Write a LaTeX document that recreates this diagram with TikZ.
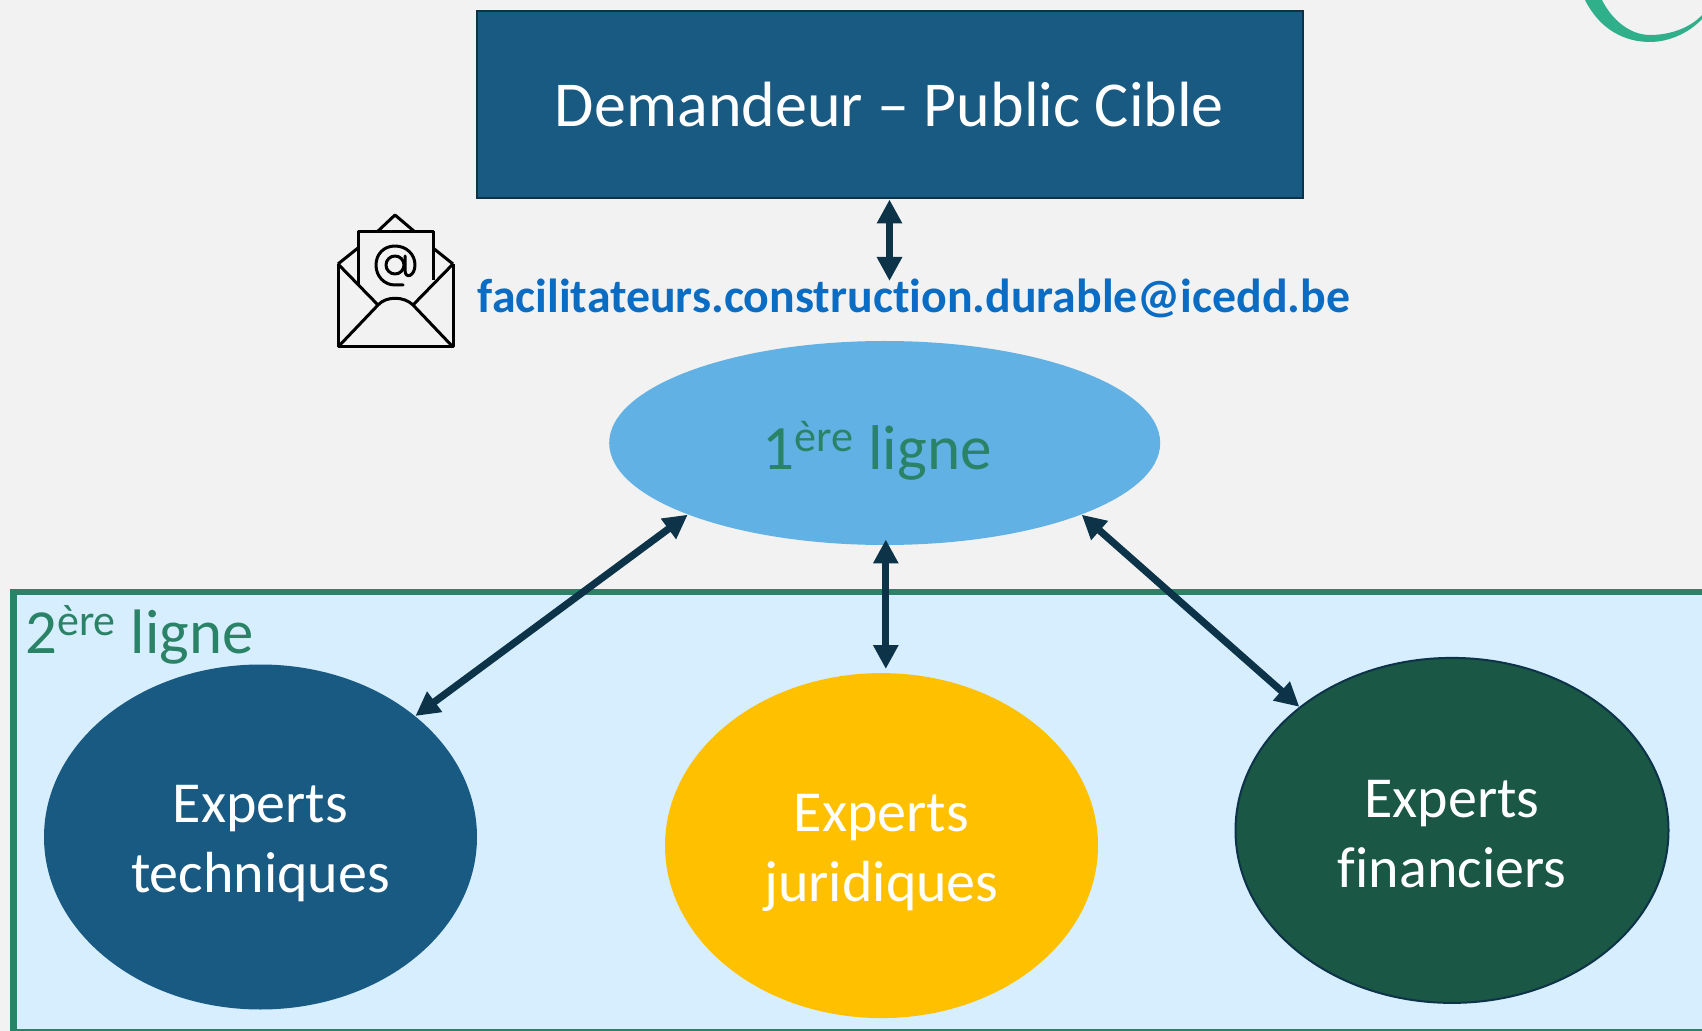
\documentclass[tikz,border=0pt]{standalone}
\usepackage{fontspec}
\setmainfont{Carlito}[Ligatures=NoCommon]
\usetikzlibrary{arrows.meta,shapes.geometric}
\definecolor{fond}{HTML}{F2F2F2}
\definecolor{bleu}{HTML}{185A82}
\definecolor{marine}{HTML}{0D3349}
\definecolor{ciel}{HTML}{61B1E4}
\definecolor{vert}{HTML}{2A8366}
\definecolor{pale}{HTML}{D6EEFE}
\definecolor{sapin}{HTML}{1A5745}
\definecolor{menthe}{HTML}{30B08A}
\definecolor{lien}{HTML}{0A6CC2}
\definecolor{jaune}{HTML}{FFC000}
\tikzset{
  expert/.style={ellipse, inner sep=0pt, minimum width=216.5pt, minimum height=172.5pt, text=white, align=center, text height=60.5pt, font=\fontsize{29}{35}\selectfont},
  fleche/.style={draw=marine, line width=3.6pt, {Triangle[length=12pt,width=12pt]}-{Triangle[length=12pt,width=12pt]}},
  icone/.style={line width=1.5pt, line join=round}
}
\begin{document}
\begin{tikzpicture}[x=0.5pt, y=-0.5pt]
    \path[use as bounding box, clip] (0,0) rectangle (1702,1031);
    \fill[fond] (0,0) rectangle (1702,1031);
    \fill[menthe] (1585,0) .. controls (1600,30) and (1625,42) .. (1650,42) .. controls (1670,42) and (1690,32) .. (1702,19) -- (1702,15) .. controls (1690,28) and (1670,35) .. (1650,35) .. controls (1630,35) and (1612,20) .. (1602,0) -- cycle;
    \draw[draw=vert, line width=3.2pt, fill=pale] (13.5,592) rectangle (1720,1032);
    \node[draw=marine, fill=bleu, line width=1pt, inner sep=0pt, minimum width=413pt, minimum height=93.5pt, text=white, font=\fontsize{32}{38}\selectfont] (demandeur) at (889.5,105) {Demandeur – Public Cible};
    \node[font=\bfseries\fontsize{23.9}{28}\selectfont, text=lien, inner sep=0pt] (courriel) at (914,298) {facilitateurs.construction.durable@icedd.be};
    \node[ellipse, fill=ciel, inner sep=0pt, minimum width=275.5pt, minimum height=102pt, text=vert, text height=33pt, text depth=6pt, font=\fontsize{31.6}{38}\selectfont] (premiere) at (884.7,443) {\hspace*{-7.6pt}1\textsuperscript{ère} ligne};
    \node[text=vert, inner sep=0pt, anchor=west, font=\fontsize{31.4}{38}\selectfont] (seconde) at (25,635) {2\textsuperscript{ère} ligne};
    \node[expert, fill=bleu] (techniques) at (260.5,837) {Experts\\techniques};
    \node[expert, fill=jaune] (juridiques) at (881.5,845.6) {Experts\\juridiques};
    \node[expert, fill=sapin, draw=marine, line width=1pt, text height=57pt] (financiers) at (1452,830.4) {Experts\\financiers};
    \coordinate (finmail) at (889.5,281);
    \coordinate (hautmilieu) at (885.8,539.5);
    \coordinate (basmilieu) at (885.8,669);
    \draw[fleche] (demandeur.south) -- (finmail);
    \draw[fleche] (premiere.200.7) -- (techniques.38.3);
    \draw[fleche] (hautmilieu) -- (basmilieu);
    \draw[fleche] (premiere.340) -- (financiers.141.6);
    % icone
    \draw[icone] (338,264) -- (338,347) -- (453,347) -- (453,264);
    \draw[icone] (338,264) -- (358,248) (453,264) -- (433,248);
    \draw[icone] (377,232) -- (395,215) -- (415,232);
    \draw[icone] (358,285) -- (358,232) -- (433,232) -- (433,280);
    \draw[icone] (338,264) -- (378,305) (453,264) -- (413,305);
    \draw[icone] (338,347) -- (378,305) .. controls (386,296) and (404,296) .. (413,305) -- (453,347);
    \draw[icone] (395,265) circle (9);
    \draw[icone, line cap=round] (405,256) -- (405,270) .. controls (405,280) and (415,276) .. (415,265) .. controls (415,254) and (406,246) .. (395,246) .. controls (384,246) and (376,254) .. (376,265) .. controls (376,276) and (384,285) .. (395,285) -- (403,285);
\end{tikzpicture}
\end{document}
